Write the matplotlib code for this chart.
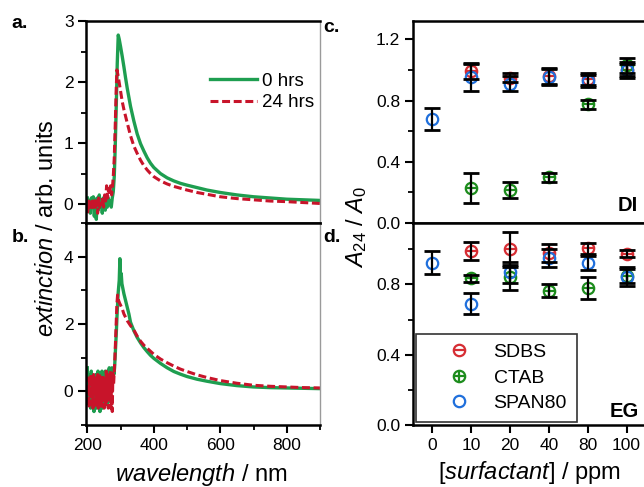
import numpy as np
import matplotlib
matplotlib.use("Agg")
import matplotlib.pyplot as plt
from matplotlib.ticker import MultipleLocator, FixedLocator
from matplotlib.lines import Line2D

plt.rcParams['font.family'] = ['Liberation Sans', 'DejaVu Sans']
plt.rcParams['mathtext.fontset'] = 'custom'
plt.rcParams['mathtext.rm'] = 'Liberation Sans'
plt.rcParams['mathtext.it'] = 'Liberation Sans:italic'
plt.rcParams['mathtext.bf'] = 'Liberation Sans:bold'

# ---------------- spectra, panel a (DI) ----------------
wl_a_0h = [200, 203, 206, 209, 212, 215, 218, 221, 224, 227, 230, 233, 236, 239, 242, 245, 248,
           251, 254, 257, 260, 263, 266, 269, 272, 275, 278, 281, 284, 287, 290, 293, 296, 300,
           305, 310, 315, 320, 330, 340, 350, 360, 370, 380, 390, 400, 420, 440, 460, 480, 500,
           530, 560, 600, 650, 700, 750, 800, 850, 900]
ext_a_0h = [0.10, -0.10, 0.05, -0.15, 0.10, -0.05, 0.12, -0.20, 0.08, -0.25, 0.10, -0.10, 0.15,
            -0.05, 0.05, -0.15, 0.10, 0.00, -0.10, 0.08, -0.05, 0.10, 0.00, 0.05, -0.05, 0.10,
            0.20, 0.45, 0.95, 1.60, 2.30, 2.77, 2.70, 2.58, 2.42, 2.25, 2.07, 1.90, 1.60, 1.36,
            1.15, 0.99, 0.87, 0.76, 0.67, 0.60, 0.50, 0.43, 0.38, 0.34, 0.31, 0.27, 0.23, 0.19,
            0.15, 0.12, 0.10, 0.08, 0.07, 0.06]
wl_a_24h = [201, 204, 207, 210, 213, 216, 219, 222, 225, 228, 231, 234, 237, 240, 243, 246, 249,
            252, 255, 258, 261, 264, 267, 270, 273, 276, 278, 281, 284, 287, 289, 292, 295, 300,
            305, 310, 320, 330, 340, 350, 360, 370, 380, 390, 400, 420, 440, 460, 480, 500, 530,
            560, 600, 650, 700, 750, 800, 850, 900]
ext_a_24h = [-0.15, 0.05, -0.10, 0.08, -0.05, 0.05, -0.10, 0.10, -0.05, 0.05, -0.15, 0.10, -0.05,
             0.05, 0.00, 0.10, -0.05, 0.15, 0.05, 0.30, 0.10, 0.25, 0.15, 0.30, 0.15, 0.30, 0.45,
             0.75, 1.30, 1.90, 2.20, 2.12, 2.02, 1.85, 1.68, 1.55, 1.33, 1.12, 0.95, 0.83, 0.72,
             0.63, 0.56, 0.50, 0.45, 0.38, 0.33, 0.29, 0.26, 0.23, 0.19, 0.16, 0.12, 0.09, 0.07,
             0.05, 0.04, 0.025, 0.01]

# ---------------- spectra, panel b (EG) ----------------
wl_b_0h = [200, 202, 204, 206, 208, 210, 212, 214, 216, 218, 220, 222, 224, 226, 228, 230, 232,
           234, 236, 238, 240, 242, 244, 246, 248, 250, 252, 254, 256, 258, 260, 262, 264, 266,
           268, 270, 272, 274, 276, 278, 280, 282, 284, 287, 290, 293, 296, 298, 300, 302, 304,
           307, 310, 315, 320, 325, 330, 340, 350, 360, 370, 380, 390, 400, 420, 440, 460, 480,
           500, 530, 560, 600, 650, 700, 750, 800, 850, 900]
ext_b_0h = [0.70, -0.30, 0.50, -0.40, 0.20, -0.50, 0.60, 0.00, -0.30, 0.40, -0.60, 0.30, -0.20,
            0.50, -0.50, 0.10, 0.60, -0.40, 0.30, -0.60, 0.40, -0.10, 0.60, -0.50, 0.20, 0.50,
            -0.30, 0.60, -0.20, 0.50, -0.40, 0.60, 0.00, 0.70, -0.30, 0.60, 0.20, 0.70, 0.50,
            0.60, 0.50, 0.70, 1.10, 1.70, 2.40, 2.95, 3.30, 3.94, 3.30, 3.50, 3.20, 3.05, 2.90,
            2.70, 2.50, 2.30, 2.05, 1.80, 1.60, 1.44, 1.30, 1.18, 1.07, 0.98, 0.83, 0.70, 0.59,
            0.51, 0.44, 0.36, 0.30, 0.23, 0.17, 0.13, 0.11, 0.10, 0.09, 0.08]
wl_b_24h = [201, 203, 205, 207, 209, 211, 213, 215, 217, 219, 221, 223, 225, 227, 229, 231, 233,
            235, 237, 239, 241, 243, 245, 247, 249, 251, 253, 255, 257, 259, 261, 263, 265, 267,
            269, 271, 273, 275, 277, 279, 281, 283, 286, 289, 291, 294, 297, 300, 305, 310, 320,
            330, 340, 350, 360, 370, 380, 390, 400, 420, 440, 460, 480, 500, 530, 560, 600, 650,
            700, 750, 800, 850, 900]
ext_b_24h = [-0.40, 0.40, -0.50, 0.30, -0.20, 0.50, -0.40, 0.20, -0.50, 0.50, -0.10, 0.40, -0.50,
             0.30, -0.30, 0.50, -0.50, 0.20, 0.50, -0.40, 0.30, -0.50, 0.50, -0.20, 0.40, -0.50,
             0.30, -0.40, 0.60, -0.30, 0.50, -0.50, 0.40, -0.20, 0.60, -0.50, 0.50, -0.60, 0.60,
             0.20, 0.60, 1.00, 1.80, 2.60, 2.86, 2.70, 2.62, 2.56, 2.45, 2.30, 2.10, 1.95, 1.82,
             1.64, 1.49, 1.37, 1.28, 1.19, 1.10, 0.96, 0.85, 0.75, 0.66, 0.59, 0.49, 0.41, 0.32,
             0.24, 0.18, 0.15, 0.13, 0.11, 0.10]

# ---------------- stability ratios ----------------
conc_labels = ['0', '10', '20', '40', '80', '100']
sdbs_di = [np.nan, 0.99, 0.95, 0.96, 0.94, 1.00]
sdbs_di_err = [np.nan, 0.05, 0.03, 0.05, 0.04, 0.04]
ctab_di = [np.nan, 0.23, 0.215, 0.30, 0.775, 1.03]
ctab_di_err = [np.nan, 0.097, 0.05, 0.03, 0.03, 0.05]
span_di = [0.68, 0.955, 0.91, 0.955, 0.93, 1.00]
span_di_err = [0.07, 0.09, 0.05, 0.05, 0.04, 0.05]

sdbs_eg = [np.nan, 0.99, 1.00, 0.98, 1.005, 0.975]
sdbs_eg_err = [np.nan, 0.05, 0.10, 0.05, 0.03, 0.02]
ctab_eg = [np.nan, 0.835, 0.84, 0.765, 0.78, 0.85]
ctab_eg_err = [np.nan, 0.02, 0.07, 0.035, 0.065, 0.04]
span_eg = [0.925, 0.69, 0.87, 0.95, 0.92, 0.845]
span_eg_err = [0.068, 0.06, 0.06, 0.05, 0.04, 0.055]

GREEN_LINE = '#1e9e50'
RED_LINE = '#c8142a'
C_SDBS = '#d62d33'
C_CTAB = '#1c8c1c'
C_SPAN = '#1f6fdc'

W, H = 644, 487
fig = plt.figure(figsize=(W / 100, H / 100), dpi=100)


def rect(l, t, r, b):
    return [l / W, 1 - b / H, (r - l) / W, (b - t) / H]


ax_a = fig.add_axes(rect(86, 21, 320, 223))
ax_b = fig.add_axes(rect(86, 223, 320, 425))
ax_c = fig.add_axes(rect(412.7, 21, 646, 223))
ax_d = fig.add_axes(rect(412.7, 223, 646, 425))

SPW = 1.8
for ax in (ax_a, ax_b, ax_c, ax_d):
    for s in ax.spines.values():
        s.set_linewidth(SPW)
    ax.tick_params(which='major', direction='out', length=6, width=1.5, labelsize=12.5, pad=3)
    ax.tick_params(which='minor', direction='out', length=3.5, width=1.3)
    ax.tick_params(top=False, right=False)
for ax in (ax_a, ax_b):
    ax.spines['right'].set_color('#9a9a9a')
    ax.spines['right'].set_linewidth(1.0)
for ax in (ax_c, ax_d):
    ax.spines['right'].set_visible(False)

dash = (0, (2.6, 1.2))
# panel a
ax_a.plot(wl_a_0h, ext_a_0h, color=GREEN_LINE, lw=2.4, label='0 hrs')
ax_a.plot(wl_a_24h, ext_a_24h, color=RED_LINE, lw=2.2, ls=dash, label='24 hrs')
ax_a.set_xlim(196, 900)
ax_a.set_ylim(-0.31, 3.0)
ax_a.yaxis.set_major_locator(FixedLocator([0, 1, 2, 3]))
ax_a.yaxis.set_minor_locator(MultipleLocator(0.5))
ax_a.xaxis.set_major_locator(MultipleLocator(200))
ax_a.xaxis.set_minor_locator(MultipleLocator(100))
ax_a.tick_params(labelbottom=False)
ax_a.legend(loc='upper left', bbox_to_anchor=(0.53, 0.745), frameon=False, fontsize=13.5,
            handlelength=2.5, handletextpad=0.25, labelspacing=0.25, borderpad=0, borderaxespad=0)

# panel b
ax_b.plot(wl_b_0h, ext_b_0h, color=GREEN_LINE, lw=2.4)
ax_b.plot(wl_b_24h, ext_b_24h, color=RED_LINE, lw=2.2, ls=dash)
ax_b.set_xlim(196, 900)
ax_b.set_ylim(-1.0, 5.0)
ax_b.yaxis.set_major_locator(FixedLocator([0, 2, 4]))
ax_b.yaxis.set_minor_locator(MultipleLocator(1))
ax_b.xaxis.set_major_locator(MultipleLocator(200))
ax_b.xaxis.set_minor_locator(MultipleLocator(100))

MS, MEW = 8.2, 1.6


def draw_ratio(ax, sdbs, sdbs_e, ctab, ctab_e, span, span_e):
    x = np.arange(len(conc_labels))
    ax.plot(x, sdbs, ls='none', marker='o', mfc='none', mec=C_SDBS, ms=MS, mew=MEW, zorder=3)
    ax.plot(x, sdbs, ls='none', marker='_', mec=C_SDBS, ms=MS, mew=MEW, zorder=3)
    ax.plot(x, ctab, ls='none', marker='o', mfc='none', mec=C_CTAB, ms=MS, mew=MEW, zorder=3)
    ax.plot(x, ctab, ls='none', marker='+', mec=C_CTAB, ms=MS, mew=MEW, zorder=3)
    ax.plot(x, span, ls='none', marker='o', mfc='none', mec=C_SPAN, ms=MS, mew=MEW, zorder=3)
    for v, e in ((sdbs, sdbs_e), (ctab, ctab_e), (span, span_e)):
        ax.errorbar(x, v, yerr=e, fmt='none', ecolor='black', elinewidth=1.6, capsize=5.5,
                    capthick=2.0, zorder=4)
    ax.set_xlim(-0.5, 5.5)
    ax.set_xticks(x)
    ax.yaxis.set_major_locator(MultipleLocator(0.4))
    ax.yaxis.set_minor_locator(MultipleLocator(0.2))
    ax.yaxis.set_major_formatter(matplotlib.ticker.FormatStrFormatter('%.1f'))


draw_ratio(ax_c, sdbs_di, sdbs_di_err, ctab_di, ctab_di_err, span_di, span_di_err)
ax_c.set_ylim(0, 1.32)
ax_c.tick_params(labelbottom=False)
draw_ratio(ax_d, sdbs_eg, sdbs_eg_err, ctab_eg, ctab_eg_err, span_eg, span_eg_err)
ax_d.set_ylim(0, 1.15)
ax_d.set_xticklabels(conc_labels)

h_sdbs = (Line2D([], [], ls='none', marker='o', mfc='none', mec=C_SDBS, ms=MS, mew=MEW),
          Line2D([], [], ls='none', marker='_', mec=C_SDBS, ms=MS, mew=MEW))
h_ctab = (Line2D([], [], ls='none', marker='o', mfc='none', mec=C_CTAB, ms=MS, mew=MEW),
          Line2D([], [], ls='none', marker='+', mec=C_CTAB, ms=MS, mew=MEW))
h_span = Line2D([], [], ls='none', marker='o', mfc='none', mec=C_SPAN, ms=MS, mew=MEW)
leg = ax_d.legend([h_sdbs, h_ctab, h_span], ['SDBS', 'CTAB', 'SPAN80'], loc='lower left',
                  bbox_to_anchor=(0.013, 0.016), borderaxespad=0, fontsize=14, fancybox=False,
                  framealpha=1, edgecolor='#333333', borderpad=0.5, handlelength=3.5,
                  handletextpad=0.0, labelspacing=0.4)
leg.get_frame().set_linewidth(1.2)

# in-panel labels
ax_c.text((638 - 412.7) / 233.3, 0.06, 'DI', transform=ax_c.transAxes, ha='right',
          va='baseline', fontsize=14.5, fontweight='bold')
ax_d.text((639 - 412.7) / 233.3, 0.04, 'EG', transform=ax_d.transAxes, ha='right',
          va='baseline', fontsize=14.5, fontweight='bold')

# panel letters
for txt, x, y in (('a.', 11.7, 28.3), ('b.', 11.7, 242.3), ('c.', 323.3, 31.7), ('d.', 323.3, 241.7)):
    fig.text(x / W, 1 - y / H, txt, fontsize=14, fontweight='bold', ha='left', va='baseline')

# axis labels
fig.text(47 / W, 1 - 228 / H, r'$\mathit{extinction}$ / arb. units', rotation=90,
         ha='center', va='center', fontsize=17)
fig.text(357 / W, 1 - 227 / H, r'$A_{24}$ / $A_0$', rotation=90, ha='center', va='center',
         fontsize=17)
fig.text(201 / W, 1 - 474 / H, r'$\mathit{wavelength}$ / nm', ha='center', va='center',
         fontsize=17)
fig.text(529 / W, 1 - 472 / H, r'[$\mathit{surfactant}$] / ppm', ha='center', va='center',
         fontsize=17)

fig.savefig('out.png', dpi=100)
